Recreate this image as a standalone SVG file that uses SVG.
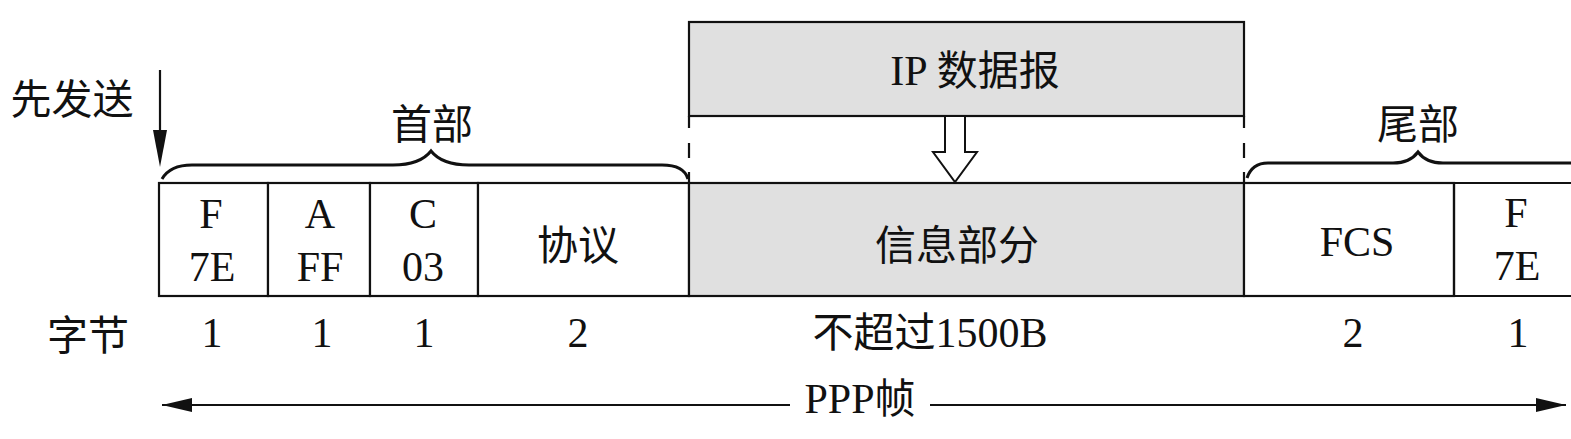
<svg xmlns="http://www.w3.org/2000/svg" width="1571" height="439" viewBox="0 0 1571 439">
<style>
text{font-family:"Liberation Serif","Noto Sans CJK SC",serif;fill:#111;text-anchor:middle}
.lat{font-size:42px}
.cjk{font-size:41px}
.cell{fill:#fff;stroke:#111;stroke-width:2.2}
.gray{fill:#e0e0e0;stroke:#111;stroke-width:2.2}
.ln{fill:none;stroke:#111;stroke-width:2.2}
.br{fill:none;stroke:#111;stroke-width:3}
</style>
<defs>
<marker id="ah" viewBox="0 0 30 14" refX="30" refY="7" markerWidth="30" markerHeight="14" markerUnits="userSpaceOnUse" orient="auto-start-reverse">
<path d="M0,0 L30,7 L0,14 Z" fill="#111"/>
</marker>
</defs>
<rect width="1571" height="439" fill="#fff"/>

<g id="ip-datagram">
<rect class="gray" x="689" y="22" width="555" height="94"/>
<text x="975" y="85"><tspan class="lat">IP </tspan><tspan class="cjk">数据报</tspan></text>
</g>

<g id="frame">
<g id="cell-f1"><rect class="cell" x="159" y="183" width="109" height="113"/><text class="lat" x="211" y="228">F</text><text class="lat" x="212" y="281">7E</text></g>
<g id="cell-a"><rect class="cell" x="268" y="183" width="102" height="113"/><text class="lat" x="320" y="228">A</text><text class="lat" x="320" y="281">FF</text></g>
<g id="cell-c"><rect class="cell" x="370" y="183" width="108" height="113"/><text class="lat" x="423" y="228">C</text><text class="lat" x="423" y="281">03</text></g>
<g id="cell-proto"><rect class="cell" x="478" y="183" width="211" height="113"/><text class="cjk" x="578" y="260">协议</text></g>
<g id="cell-info"><rect class="gray" x="689" y="183" width="555" height="113"/><text class="cjk" x="957" y="260">信息部分</text></g>
<g id="cell-fcs"><rect class="cell" x="1244" y="183" width="210" height="113"/><text class="lat" x="1357" y="256">FCS</text></g>
<g id="cell-f2"><path class="ln" d="M1454,183 H1575 M1454,296 H1575 M1454,183 V296"/><text class="lat" x="1516" y="227">F</text><text class="lat" x="1517" y="280">7E</text></g>
</g>

<g id="labels">
<text class="cjk" x="72" y="114">先发送</text>
<text class="cjk" x="432" y="139">首部</text>
<text class="cjk" x="1418" y="139">尾部</text>
<text class="cjk" x="88" y="350">字节</text>
<text class="lat" x="212" y="347">1</text>
<text class="lat" x="322" y="347">1</text>
<text class="lat" x="424" y="347">1</text>
<text class="lat" x="578" y="347">2</text>
<text x="930" y="347"><tspan class="cjk">不超过</tspan><tspan class="lat">1500B</tspan></text>
<text class="lat" x="1353" y="347">2</text>
<text class="lat" x="1518" y="347">1</text>
<text x="860" y="413"><tspan class="lat">PPP</tspan><tspan class="cjk">帧</tspan></text>
</g>

<g id="connectors">
<path class="ln" d="M689,116 V128 M689,143 V158 M689,172 V183"/>
<path class="ln" d="M1244,116 V128 M1244,143 V158 M1244,172 V183"/>
<path d="M945,117 V152 H933 L955,182 L977,152 H965 V117" fill="#fff" stroke="#111" stroke-width="2"/>
<line class="ln" x1="160" y1="70" x2="160" y2="132"/>
<path d="M153,130 L160,167 L167,130 Z" fill="#111"/>
<path class="br" d="M162,179 Q170,165 192,165 H393 Q420,165 431,151 Q442,165 469,165 H662 Q684,165 688,179"/>
<path class="br" d="M1247,178 Q1252,163 1268,163 H1393 Q1410,163 1418,152 Q1426,163 1443,163 H1575"/>
<line class="ln" x1="162" y1="405" x2="790" y2="405" marker-start="url(#ah)"/>
<line class="ln" x1="930" y1="405" x2="1566" y2="405" marker-end="url(#ah)"/>
</g>
</svg>
